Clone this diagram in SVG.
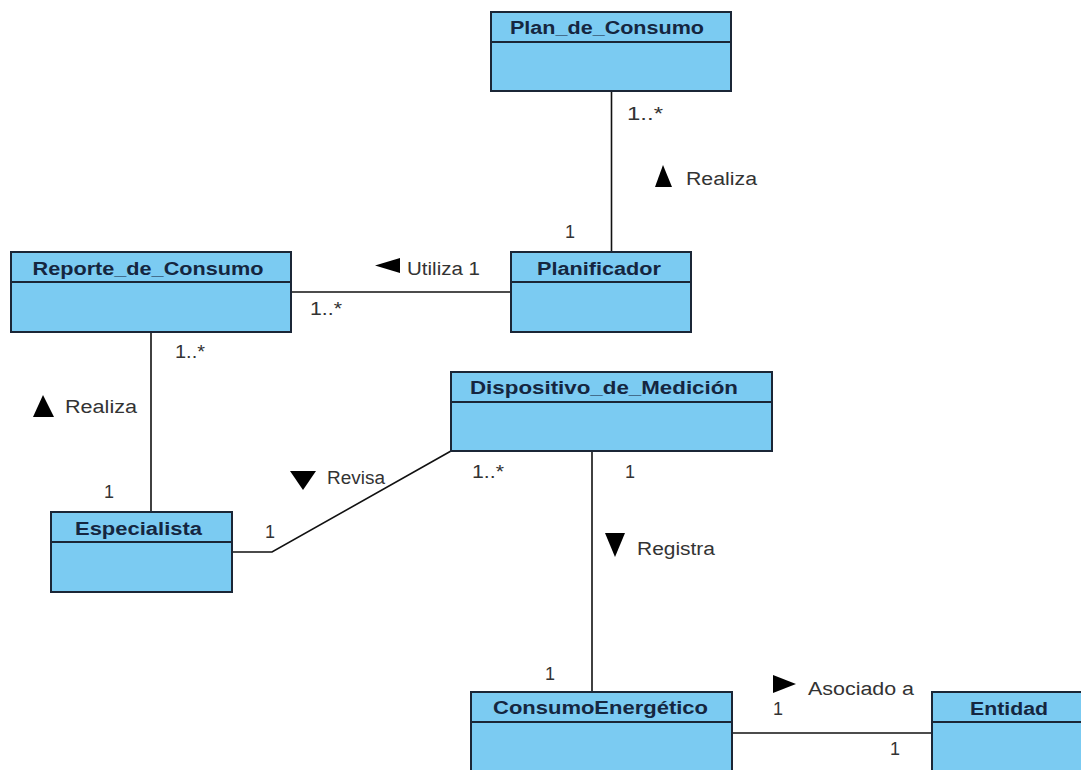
<svg xmlns="http://www.w3.org/2000/svg" width="1081" height="770" viewBox="0 0 1081 770">
<style>
.box{fill:#7bcbf2;stroke:#1b2636;stroke-width:2}
.div{stroke:#1b2636;stroke-width:2}
.name{font-family:"Liberation Sans",Arial,sans-serif;font-weight:bold;font-size:18px;fill:#152640;text-anchor:middle}
.lbl{font-family:"Liberation Sans",Arial,sans-serif;font-size:18px;fill:#333333}
.conn{stroke:#111111;stroke-width:1.6;fill:none}
.tri{fill:#000000}
</style>
<rect width="1081" height="770" fill="#ffffff"/>
<g id="connectors">
<line class="conn" x1="611.5" y1="91" x2="611.5" y2="252"/>
<line class="conn" x1="291" y1="292" x2="511" y2="292"/>
<line class="conn" x1="151" y1="332" x2="151" y2="512"/>
<polyline class="conn" points="232,552 272,552 451,451"/>
<line class="conn" x1="592" y1="451" x2="592" y2="692"/>
<line class="conn" x1="732" y1="733" x2="932" y2="733"/>
</g>
<g id="labels">
<text class="lbl" x="627" y="120" textLength="36" lengthAdjust="spacingAndGlyphs">1..*</text>
<polygon class="tri" points="663,165 672,187 655,187"/>
<text class="lbl" x="686" y="185" textLength="71" lengthAdjust="spacingAndGlyphs">Realiza</text>
<text class="lbl" x="565" y="238">1</text>
<polygon class="tri" points="375,265.5 400,258 400,273"/>
<text class="lbl" x="407" y="275" textLength="73" lengthAdjust="spacingAndGlyphs">Utiliza 1</text>
<text class="lbl" x="310" y="315" textLength="32" lengthAdjust="spacingAndGlyphs">1..*</text>
<text class="lbl" x="175" y="358" textLength="30" lengthAdjust="spacingAndGlyphs">1..*</text>
<polygon class="tri" points="43,395 54,417 33,417"/>
<text class="lbl" x="65" y="413" textLength="72" lengthAdjust="spacingAndGlyphs">Realiza</text>
<text class="lbl" x="104" y="498">1</text>
<polygon class="tri" points="290,471 316,471 303,490"/>
<text class="lbl" x="327" y="484" textLength="58" lengthAdjust="spacingAndGlyphs">Revisa</text>
<text class="lbl" x="265" y="538">1</text>
<text class="lbl" x="472" y="478" textLength="32" lengthAdjust="spacingAndGlyphs">1..*</text>
<text class="lbl" x="625" y="478">1</text>
<polygon class="tri" points="605,533 625,533 615,557"/>
<text class="lbl" x="637" y="555" textLength="78" lengthAdjust="spacingAndGlyphs">Registra</text>
<text class="lbl" x="545" y="680">1</text>
<polygon class="tri" points="773,675 796,684 773,693"/>
<text class="lbl" x="808" y="695" textLength="106" lengthAdjust="spacingAndGlyphs">Asociado a</text>
<text class="lbl" x="773" y="715">1</text>
<text class="lbl" x="890" y="755">1</text>
</g>
<g id="Plan_de_Consumo">
<rect class="box" x="491" y="12" width="240" height="79"/>
<line class="div" x1="491" y1="42" x2="731" y2="42"/>
<text class="name" x="607" y="34" textLength="194" lengthAdjust="spacingAndGlyphs">Plan_de_Consumo</text>
</g>
<g id="Reporte_de_Consumo">
<rect class="box" x="11" y="252" width="280" height="80"/>
<line class="div" x1="11" y1="282" x2="291" y2="282"/>
<text class="name" x="148" y="275" textLength="231" lengthAdjust="spacingAndGlyphs">Reporte_de_Consumo</text>
</g>
<g id="Planificador">
<rect class="box" x="511" y="252" width="180" height="80"/>
<line class="div" x1="511" y1="282" x2="691" y2="282"/>
<text class="name" x="599" y="275" textLength="124" lengthAdjust="spacingAndGlyphs">Planificador</text>
</g>
<g id="Dispositivo_de_Medicion">
<rect class="box" x="451" y="372" width="321" height="79"/>
<line class="div" x1="451" y1="402" x2="772" y2="402"/>
<text class="name" x="604" y="394" textLength="268" lengthAdjust="spacingAndGlyphs">Dispositivo_de_Medición</text>
</g>
<g id="Especialista">
<rect class="box" x="51" y="512" width="181" height="80"/>
<line class="div" x1="51" y1="542" x2="232" y2="542"/>
<text class="name" x="138.5" y="535" textLength="127" lengthAdjust="spacingAndGlyphs">Especialista</text>
</g>
<g id="ConsumoEnergetico">
<rect class="box" x="471" y="692" width="261" height="90"/>
<line class="div" x1="471" y1="722" x2="732" y2="722"/>
<text class="name" x="600.5" y="714" textLength="215" lengthAdjust="spacingAndGlyphs">ConsumoEnergético</text>
</g>
<g id="Entidad">
<rect class="box" x="932" y="692" width="160" height="90"/>
<line class="div" x1="932" y1="722" x2="1092" y2="722"/>
<text class="name" x="1009" y="715" textLength="78" lengthAdjust="spacingAndGlyphs">Entidad</text>
</g>
</svg>
